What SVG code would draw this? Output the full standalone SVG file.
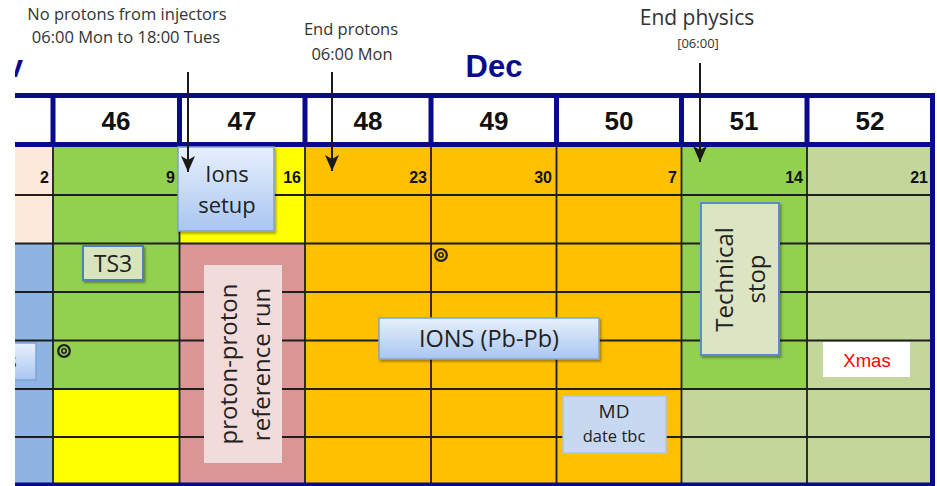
<svg xmlns="http://www.w3.org/2000/svg" width="937" height="486" viewBox="0 0 937 486">
<style>
.grid{stroke:#1e1e1e;stroke-width:1.8;fill:none}
.navy{stroke:#0a0a8c;stroke-width:5;fill:none}
.wk{font-family:"Liberation Sans",Arial,sans-serif;font-weight:bold;font-size:26px;fill:#111;text-anchor:middle}
.day{font-family:"Liberation Sans",Arial,sans-serif;font-weight:bold;font-size:16px;fill:#111;text-anchor:end}
.ann{font-family:"Open Sans",sans-serif;fill:#333;text-anchor:middle}
.lbl{font-family:"Open Sans",sans-serif;fill:#222;text-anchor:middle}
.conn{stroke:#1a1a1a;stroke-width:2;fill:none}
.sym{stroke:#222;fill:none}
</style>
<defs>
<linearGradient id="blueg" x1="0" y1="0" x2="0" y2="1">
<stop offset="0" stop-color="#e8f0fd"/>
<stop offset="1" stop-color="#a8c6f0"/>
</linearGradient>
<filter id="sh" x="-10%" y="-10%" width="130%" height="130%">
<feDropShadow dx="1.5" dy="2" stdDeviation="1.2" flood-color="#000" flood-opacity="0.35"/>
</filter>
<marker id="ah" viewBox="0 0 16 14" markerWidth="16" markerHeight="14" refX="16" refY="7" orient="auto" markerUnits="userSpaceOnUse">
<path d="M0,0 L16,7 L0,14 L4,7 Z" fill="#1a1a1a"/>
</marker>
<clipPath id="leftclip"><rect x="15" y="0" width="922" height="486"/></clipPath>
</defs>
<rect x="0" y="0" width="937" height="486" fill="#ffffff"/>

<!-- body fills -->
<g id="cells">
<rect x="15" y="147" width="38" height="96.5" fill="#fde9d9"/>
<rect x="15" y="243.5" width="38" height="241.5" fill="#8db4e2"/>
<rect x="53" y="147" width="126.5" height="242" fill="#92d050"/>
<rect x="53" y="389" width="126.5" height="96" fill="#ffff00"/>
<rect x="179.5" y="147" width="125.5" height="96.5" fill="#ffff00"/>
<rect x="179.5" y="243.5" width="125.5" height="241.5" fill="#da9694"/>
<rect x="305" y="147" width="376.5" height="338" fill="#ffc000"/>
<rect x="681.5" y="147" width="125.5" height="242" fill="#92d050"/>
<rect x="681.5" y="389" width="125.5" height="96" fill="#c4d79b"/>
<rect x="807" y="147" width="125.5" height="338" fill="#c4d79b"/>
</g>

<!-- grid -->
<g id="grid">
<path class="grid" d="M15,195H932 M15,243.5H932 M15,292H932 M15,340.5H932 M15,389H932 M15,437H932"/>
<path class="grid" d="M53,147V485 M179.5,147V485 M305,147V485 M431,147V485 M556.5,147V485 M681.5,147V485 M807,147V485"/>
</g>

<!-- header -->
<g id="header">
<rect x="15" y="95.5" width="917.5" height="49" fill="#ffffff"/>
<path class="navy" d="M15,95.5H935 M15,144.5H932.5 M53,95.5V144.5 M179.5,95.5V144.5 M305,95.5V144.5 M431,95.5V144.5 M556.5,95.5V144.5 M681.5,95.5V144.5 M807,95.5V144.5 M932.5,93V486 M15,485H935"/>
<text class="wk" x="116" y="130">46</text>
<text class="wk" x="242" y="130">47</text>
<text class="wk" x="368" y="130">48</text>
<text class="wk" x="494" y="130">49</text>
<text class="wk" x="619" y="130">50</text>
<text class="wk" x="744" y="130">51</text>
<text class="wk" x="870" y="130">52</text>
<text x="494" y="77" font-family="Liberation Sans, Arial, sans-serif" font-weight="bold" font-size="31" fill="#0a0a8c" text-anchor="middle">Dec</text>
<g clip-path="url(#leftclip)">
<text x="23" y="77" font-family="Liberation Sans, Arial, sans-serif" font-weight="bold" font-size="31" fill="#0a0a8c" text-anchor="end">v</text>
</g>
</g>

<!-- day numbers -->
<g id="days">
<text class="day" x="49" y="183">2</text>
<text class="day" x="175" y="183">9</text>
<text class="day" x="301" y="183">16</text>
<text class="day" x="427" y="183">23</text>
<text class="day" x="552" y="183">30</text>
<text class="day" x="677" y="183">7</text>
<text class="day" x="803" y="183">14</text>
<text class="day" x="928" y="183">21</text>
</g>

<!-- nodes -->
<g id="partial-box" clip-path="url(#leftclip)">
<rect x="5" y="343" width="31" height="37" fill="url(#blueg)" stroke="#7fa3d6" stroke-width="1.5"/>
<text class="lbl" x="12" y="368" font-size="20">s</text>
</g>

<g id="ions-setup">
<rect x="178" y="147" width="96" height="84" fill="url(#blueg)" stroke="#7fa3d6" stroke-width="1.5" filter="url(#sh)"/>
<text class="lbl" x="227" y="182" font-size="22">Ions</text>
<text class="lbl" x="227" y="213" font-size="22">setup</text>
</g>

<g id="ts3">
<rect x="83" y="246" width="60" height="34" fill="#d7e4bd" stroke="#4f81bd" stroke-width="2" filter="url(#sh)"/>
<text class="lbl" x="113" y="272" font-size="23">TS3</text>
</g>

<g id="pp-reference">
<rect x="204" y="265" width="78" height="198" fill="#f2dcdb"/>
<text class="lbl" font-size="24" transform="translate(237,364) rotate(-90)">proton-proton</text>
<text class="lbl" font-size="24" transform="translate(270,364.5) rotate(-90)">reference run</text>
</g>

<g id="ions-pbpb">
<rect x="379" y="318" width="220" height="41" fill="url(#blueg)" stroke="#7fa3d6" stroke-width="1.5" filter="url(#sh)"/>
<text class="lbl" x="489" y="347" font-size="23.5">IONS (Pb-Pb)</text>
</g>

<g id="md">
<rect x="563" y="396" width="103" height="57" fill="#c6d9f0" stroke="#aec5e2" stroke-width="1.5"/>
<text class="lbl" x="614" y="418" font-size="19">MD</text>
<text class="lbl" x="614" y="442" font-size="16.5">date tbc</text>
</g>

<g id="technical-stop">
<rect x="701" y="203" width="78" height="152" fill="#dbe5c4" stroke="#5b8bc7" stroke-width="2" filter="url(#sh)"/>
<text class="lbl" font-size="24" transform="translate(733,279.5) rotate(-90)">Technical</text>
<text class="lbl" font-size="24" transform="translate(765,279) rotate(-90)">stop</text>
</g>

<g id="xmas">
<rect x="823" y="342" width="87" height="35" fill="#ffffff"/>
<text x="867" y="367" font-family="Liberation Sans, Arial, sans-serif" font-size="18.5" fill="#ff0000" text-anchor="middle">Xmas</text>
</g>

<g id="symbols">
<circle class="sym" cx="64" cy="351" r="5.8" stroke-width="2.3"/>
<circle class="sym" cx="64" cy="351" r="2.2" stroke-width="1.6"/>
<circle class="sym" cx="441" cy="255" r="5.8" stroke-width="2.3"/>
<circle class="sym" cx="441" cy="255" r="2.2" stroke-width="1.6"/>
</g>

<!-- annotations -->
<g id="ann-no-protons">
<text class="ann" x="127" y="20" font-size="16.5">No protons from injectors</text>
<text class="ann" x="126" y="43" font-size="16.5">06:00 Mon to 18:00 Tues</text>
</g>
<g id="ann-end-protons">
<text class="ann" x="351" y="35" font-size="16.5">End protons</text>
<text class="ann" x="352" y="60" font-size="16.5">06:00 Mon</text>
</g>
<g id="ann-end-physics">
<text class="ann" x="697" y="25" font-size="21">End physics</text>
<text class="ann" x="698" y="48" font-size="13" fill="#555">[06:00]</text>
</g>

<!-- connectors -->
<g id="connectors">
<line class="conn" x1="188" y1="72" x2="188" y2="172" marker-end="url(#ah)"/>
<line class="conn" x1="332" y1="72" x2="332" y2="171" marker-end="url(#ah)"/>
<line class="conn" x1="700" y1="63" x2="700" y2="162" marker-end="url(#ah)"/>
</g>
</svg>
